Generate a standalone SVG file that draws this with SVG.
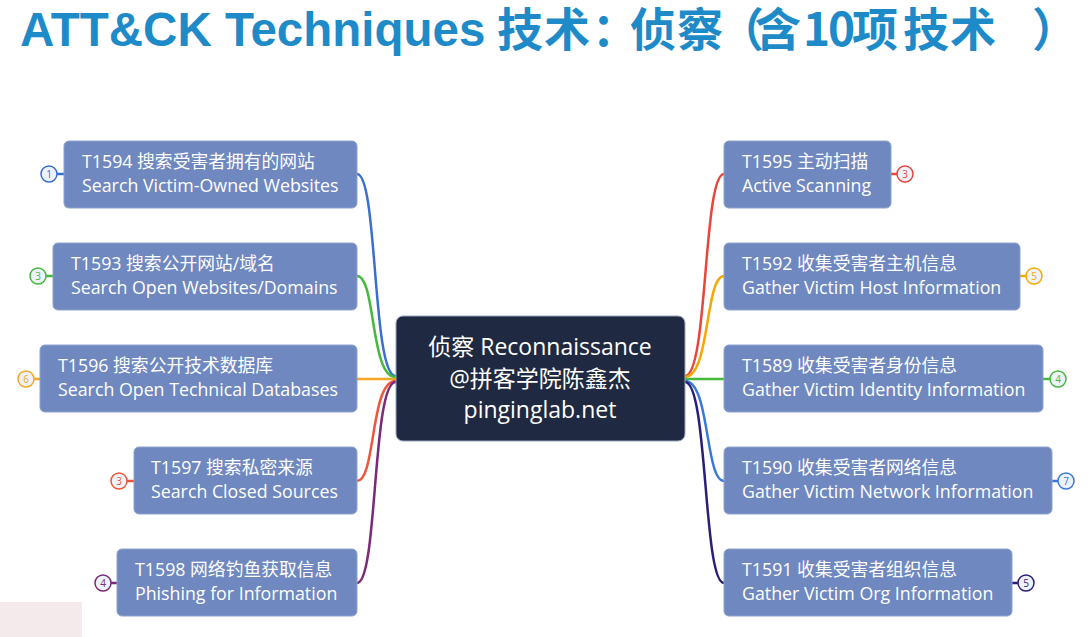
<svg xmlns="http://www.w3.org/2000/svg" width="1092" height="637" viewBox="0 0 1092 637">
<style>
.title{font-family:"Liberation Sans","Noto Sans CJK SC",sans-serif;font-weight:bold;font-size:47.5px;fill:#1e8bc8}
.titlecn{font-family:"Noto Sans CJK SC","Liberation Sans",sans-serif;font-weight:bold;font-size:46px;fill:#1e8bc8;text-spacing-trim:space-all}
.box{fill:#6f88bf;stroke:#8ea2cf;stroke-width:1}
.t{font-family:"Open Sans","Noto Sans CJK SC",sans-serif;font-size:17.8px;fill:#ffffff}
.ct{font-family:"Open Sans","Noto Sans CJK SC",sans-serif;font-size:23px;fill:#ffffff;text-anchor:middle}
.badge{fill:#eef2fa;stroke-width:1.5}
.bn{font-family:"Open Sans",sans-serif;font-size:10px;text-anchor:middle}
.c{fill:none;stroke-width:2.5}
</style>
<rect width="1092" height="637" fill="#ffffff"/>
<rect x="0" y="602" width="82" height="35" fill="#f4eaeb"/>
<text class="title" x="20" y="46">ATT&amp;CK Techniques</text>
<text class="titlecn" y="46" x="497 544 592 630 677 718 755 803 828 852 903 950 1032">技术：侦察（含10项技术）</text>

<g id="connectors">
  <path class="c" stroke="#3a6fd0" d="M357,174 C378,174 372,378 396,376"/>
  <path class="c" stroke="#46b83c" d="M357,276 C376,276 370,378 396,377"/>
  <path class="c" stroke="#f5a623" d="M357,379 L396,379"/>
  <path class="c" stroke="#f0553c" d="M357,481 C376,481 370,380 396,381"/>
  <path class="c" stroke="#7a2a78" d="M357,583 C378,583 372,380 396,382"/>
  <path class="c" stroke="#e8453c" d="M724,174 C703,174 708,376 685,376"/>
  <path class="c" stroke="#f5a800" d="M724,276 C705,276 710,377 685,377"/>
  <path class="c" stroke="#46b83c" d="M724,379 L685,379"/>
  <path class="c" stroke="#3a78d8" d="M724,481 C705,481 710,381 685,381"/>
  <path class="c" stroke="#2a1f78" d="M724,583 C703,583 708,382 685,382"/>
  <path class="c" stroke="#3a6fd0" stroke-width="2" d="M57,174 L64,174"/>
  <path class="c" stroke="#46b83c" stroke-width="2" d="M46,276 L53,276"/>
  <path class="c" stroke="#f5a623" stroke-width="2" d="M34,379 L40,379"/>
  <path class="c" stroke="#f0553c" stroke-width="2" d="M127,481 L134,481"/>
  <path class="c" stroke="#7a2a78" stroke-width="2" d="M111,583 L117,583"/>
  <path class="c" stroke="#e8453c" stroke-width="2" d="M891,174 L897,174"/>
  <path class="c" stroke="#f5a800" stroke-width="2" d="M1020,276 L1026,276"/>
  <path class="c" stroke="#46b83c" stroke-width="2" d="M1043,379 L1050,379"/>
  <path class="c" stroke="#3a78d8" stroke-width="2" d="M1052,481 L1058,481"/>
  <path class="c" stroke="#2a1f78" stroke-width="2" d="M1012,583 L1018,583"/>
</g>

<g id="center">
  <rect x="396" y="316" width="289" height="125" rx="7" fill="#1f2a42" stroke="#9aa6bd" stroke-width="1"/>
  <text class="ct" x="540" y="355">侦察 Reconnaissance</text>
  <text class="ct" x="540" y="387">@拼客学院陈鑫杰</text>
  <text class="ct" x="540" y="418">pinginglab.net</text>
</g>

<g id="T1594">
  <rect class="box" x="64" y="141" width="293" height="67" rx="5"/>
  <text class="t" x="82" y="168">T1594 搜索受害者拥有的网站</text>
  <text class="t" x="82" y="192">Search Victim-Owned Websites</text>
  <circle class="badge" cx="49" cy="174" r="8" stroke="#3a6fd0"/>
  <text class="bn" x="49" y="177.5" fill="#3a6fd0">1</text>
</g>
<g id="T1593">
  <rect class="box" x="53" y="243" width="304" height="67" rx="5"/>
  <text class="t" x="71" y="270">T1593 搜索公开网站/域名</text>
  <text class="t" x="71" y="294">Search Open Websites/Domains</text>
  <circle class="badge" cx="38" cy="276" r="8" stroke="#46b83c"/>
  <text class="bn" x="38" y="279.5" fill="#46b83c">3</text>
</g>
<g id="T1596">
  <rect class="box" x="40" y="345" width="317" height="67" rx="5"/>
  <text class="t" x="58" y="372">T1596 搜索公开技术数据库</text>
  <text class="t" x="58" y="396">Search Open Technical Databases</text>
  <circle class="badge" cx="26" cy="379" r="8" stroke="#f5a623"/>
  <text class="bn" x="26" y="382.5" fill="#f5a623">6</text>
</g>
<g id="T1597">
  <rect class="box" x="134" y="447" width="223" height="67" rx="5"/>
  <text class="t" x="151" y="474">T1597 搜索私密来源</text>
  <text class="t" x="151" y="498">Search Closed Sources</text>
  <circle class="badge" cx="119" cy="481" r="8" stroke="#f0553c"/>
  <text class="bn" x="119" y="484.5" fill="#f0553c">3</text>
</g>
<g id="T1598">
  <rect class="box" x="117" y="549" width="240" height="67" rx="5"/>
  <text class="t" x="135" y="576">T1598 网络钓鱼获取信息</text>
  <text class="t" x="135" y="600">Phishing for Information</text>
  <circle class="badge" cx="103" cy="583" r="8" stroke="#7a2a78"/>
  <text class="bn" x="103" y="586.5" fill="#7a2a78">4</text>
</g>

<g id="T1595">
  <rect class="box" x="724" y="141" width="167" height="67" rx="5"/>
  <text class="t" x="742" y="168">T1595 主动扫描</text>
  <text class="t" x="742" y="192">Active Scanning</text>
  <circle class="badge" cx="905" cy="174" r="8" stroke="#e8453c"/>
  <text class="bn" x="905" y="177.5" fill="#e8453c">3</text>
</g>
<g id="T1592">
  <rect class="box" x="724" y="243" width="296" height="67" rx="5"/>
  <text class="t" x="742" y="270">T1592 收集受害者主机信息</text>
  <text class="t" x="742" y="294">Gather Victim Host Information</text>
  <circle class="badge" cx="1034" cy="276" r="8" stroke="#f5a800"/>
  <text class="bn" x="1034" y="279.5" fill="#f5a800">5</text>
</g>
<g id="T1589">
  <rect class="box" x="724" y="345" width="319" height="67" rx="5"/>
  <text class="t" x="742" y="372">T1589 收集受害者身份信息</text>
  <text class="t" x="742" y="396">Gather Victim Identity Information</text>
  <circle class="badge" cx="1058" cy="379" r="8" stroke="#46b83c"/>
  <text class="bn" x="1058" y="382.5" fill="#46b83c">4</text>
</g>
<g id="T1590">
  <rect class="box" x="724" y="447" width="328" height="67" rx="5"/>
  <text class="t" x="742" y="474">T1590 收集受害者网络信息</text>
  <text class="t" x="742" y="498">Gather Victim Network Information</text>
  <circle class="badge" cx="1066" cy="481" r="8" stroke="#3a78d8"/>
  <text class="bn" x="1066" y="484.5" fill="#3a78d8">7</text>
</g>
<g id="T1591">
  <rect class="box" x="724" y="549" width="288" height="67" rx="5"/>
  <text class="t" x="742" y="576">T1591 收集受害者组织信息</text>
  <text class="t" x="742" y="600">Gather Victim Org Information</text>
  <circle class="badge" cx="1026" cy="583" r="8" stroke="#2a1f78"/>
  <text class="bn" x="1026" y="586.5" fill="#2a1f78">5</text>
</g>
</svg>
